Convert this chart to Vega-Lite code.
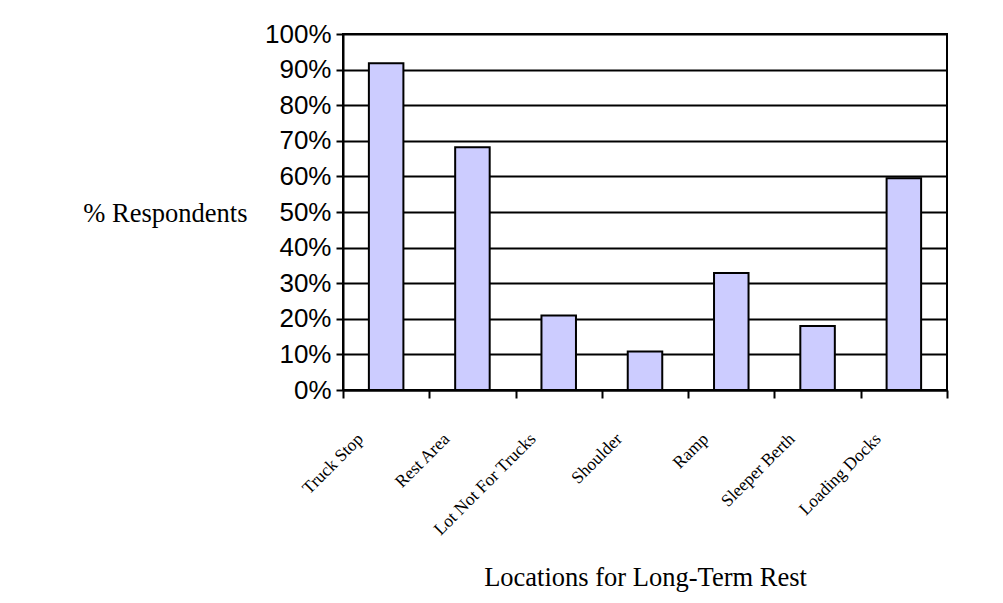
{
  "$schema": "https://vega.github.io/schema/vega-lite/v6.json",
  "autosize": {"type": "none"},
  "padding": {"left": 343, "top": 34, "right": 56, "bottom": 213},
  "width": 604,
  "height": 356,
  "background": "white",
  "config": {
    "view": {"stroke": "black", "strokeWidth": 2},
    "axis": {"domainColor": "black", "domainWidth": 2, "tickColor": "black", "tickWidth": 2, "labelColor": "black", "titleColor": "black", "titleFontWeight": "normal"}
  },
  "data": {
    "values": [
      {"location": "Truck Stop", "pct": 0.918},
      {"location": "Rest Area", "pct": 0.682},
      {"location": "Lot Not For Trucks", "pct": 0.209},
      {"location": "Shoulder", "pct": 0.108},
      {"location": "Ramp", "pct": 0.329},
      {"location": "Sleeper Berth", "pct": 0.18},
      {"location": "Loading Docks", "pct": 0.595}
    ]
  },
  "mark": {"type": "bar", "fill": "#CCCCFF", "stroke": "black", "strokeWidth": 2, "width": {"band": 0.4}},
  "encoding": {
    "x": {
      "field": "location",
      "type": "nominal",
      "sort": null,
      "scale": {"paddingInner": 0, "paddingOuter": 0},
      "axis": {
        "title": "Locations for Long-Term Rest",
        "titleFont": "Liberation Serif",
        "titleFontSize": 26.5,
        "titleY": 195,
        "titleBaseline": "alphabetic",
        "tickBand": "extent",
        "tickSize": 8,
        "labelAngle": -45,
        "labelAlign": "right",
        "labelBaseline": "middle",
        "labelFont": "Liberation Serif",
        "labelFontSize": 17.5,
        "labelOffset": -26,
        "labelPadding": 38,
        "grid": false
      }
    },
    "y": {
      "field": "pct",
      "type": "quantitative",
      "scale": {"domain": [0, 1], "nice": false},
      "axis": {
        "values": [0, 0.1, 0.2, 0.3, 0.4, 0.5, 0.6, 0.7, 0.8, 0.9, 1],
        "format": "%",
        "grid": true,
        "gridColor": "black",
        "gridWidth": 2,
        "gridOpacity": 1,
        "tickSize": 7,
        "labelFont": "Liberation Sans",
        "labelFontSize": 26,
        "labelPadding": 5,
        "title": "% Respondents",
        "titleFont": "Liberation Serif",
        "titleFontSize": 26.5,
        "titleAngle": 0,
        "titleAlign": "right",
        "titleBaseline": "middle",
        "titleX": -96,
        "titleY": 179
      }
    }
  }
}
